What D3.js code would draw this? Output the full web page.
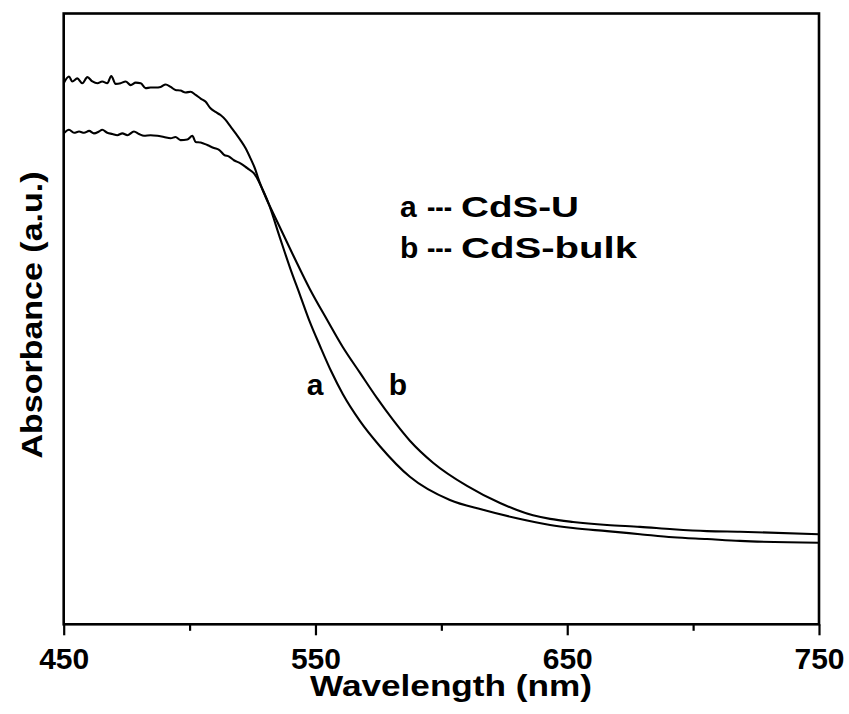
<!DOCTYPE html>
<html>
<head>
<meta charset="utf-8">
<script src="https://cdn.jsdelivr.net/npm/d3@7/dist/d3.min.js"></script>
<style>
  html, body { margin: 0; padding: 0; background: #fff; }
  svg { display: block; }
  text { font-family: "Liberation Sans", Arial, Helvetica, sans-serif; font-weight: bold; fill: #000; }
</style>
</head>
<body>
<svg id="chart" width="849" height="714"></svg>
<script>
// ---- Data ----
const wavelengthA = [450,452.1,453.4,455.4,457.4,459.4,461.4,463.4,465.3,467.3,468.9,470.6,472.6,474.6,476.6,478.6,480.6,482.5,484.5,486.5,488.5,490.5,492.5,494.4,496.4,498.4,500.4,502.4,504.4,506.3,508.3,510.3,512.3,514.3,516.3,518.3,520.2,522.2,524.2,526.2,527.3,531.5,535.9,539.9,543.9,547.8,551.8,556.2,560.9,567.7,575.6,587.5,603.4,616.5,630.0,643.2,652.3,665.8,678.9,692.0,705.5,718.6,750];
const absorbanceA = [0.885,0.896,0.888,0.893,0.885,0.895,0.888,0.885,0.888,0.885,0.897,0.884,0.885,0.888,0.882,0.886,0.885,0.877,0.878,0.878,0.879,0.883,0.879,0.874,0.873,0.870,0.871,0.866,0.860,0.855,0.844,0.838,0.833,0.825,0.814,0.803,0.792,0.779,0.762,0.743,0.729,0.687,0.632,0.583,0.538,0.494,0.455,0.414,0.376,0.332,0.291,0.241,0.203,0.187,0.173,0.162,0.157,0.152,0.147,0.142,0.139,0.136,0.133];

const wavelengthB = [450,452.1,454.1,456.1,458.1,460.1,462.0,464.0,465.3,467.3,469.3,471.3,473.3,475.3,477.9,479.9,481.9,484.5,487.2,489.8,492.5,494.4,496.4,499.1,501.1,502.4,504.4,507.0,509.7,511.7,513.7,515.7,517.6,520.2,522.9,525.5,531.5,541.1,547.8,554.6,560.9,567.7,574.4,580.8,587.5,596.7,610.2,623.3,636.4,643.2,652.3,665.8,678.9,692.0,705.5,718.6,750];
const absorbanceB = [0.803,0.809,0.804,0.806,0.804,0.807,0.803,0.806,0.809,0.804,0.802,0.800,0.803,0.800,0.806,0.802,0.799,0.800,0.799,0.797,0.795,0.797,0.792,0.793,0.799,0.789,0.788,0.784,0.779,0.776,0.768,0.765,0.759,0.754,0.746,0.738,0.687,0.604,0.548,0.498,0.453,0.411,0.370,0.334,0.300,0.264,0.226,0.198,0.178,0.172,0.167,0.162,0.159,0.155,0.152,0.151,0.147];

const majorTicks = [450, 550, 650, 750];
const minorTicks = [500, 600, 700];
const xTitle = "Wavelength (nm)";
const yTitle = "Absorbance (a.u.)";
const curveLabels = ["a", "b"];
const legendKeys = ["a", "b"];
const legendNames = ["CdS-U", "CdS-bulk"];

(function () {
// ---- Layout ----
const pLeft = 63.7, pRight = 819, pTop = 13.5, pBottom = 624.3;
const svg = d3.select("#chart");

const x = d3.scaleLinear().domain([450, 750]).range([pLeft, pRight]);
const y = d3.scaleLinear().domain([0, 1]).range([624, 13]);

// Curves
const line = d3.line().x(d => x(d[0])).y(d => y(d[1])).curve(d3.curveMonotoneX);
const seriesA = wavelengthA.map((w, i) => [w, absorbanceA[i]]);
const seriesB = wavelengthB.map((w, i) => [w, absorbanceB[i]]);

svg.append("clipPath").attr("id", "plotclip")
  .append("rect").attr("x", pLeft).attr("y", pTop).attr("width", pRight - pLeft).attr("height", pBottom - pTop);

const plot = svg.append("g").attr("clip-path", "url(#plotclip)");
[seriesA, seriesB].forEach(s => {
  plot.append("path").datum(s)
    .attr("d", line)
    .attr("fill", "none")
    .attr("stroke", "#000")
    .attr("stroke-width", 2.1)
    .attr("stroke-linejoin", "round");
});

// Frame
svg.append("rect")
  .attr("x", pLeft).attr("y", pTop)
  .attr("width", pRight - pLeft).attr("height", pBottom - pTop)
  .attr("fill", "none").attr("stroke", "#000").attr("stroke-width", 2.6);

// Major axis
const axMajor = svg.append("g").attr("transform", `translate(0,${pBottom})`)
  .call(d3.axisBottom(x).tickValues(majorTicks).tickSize(11).tickSizeOuter(0).tickPadding(12.5).tickFormat(d3.format("d")));
axMajor.select(".domain").remove();
axMajor.selectAll(".tick line").attr("stroke", "#000").attr("stroke-width", 2.2);
axMajor.selectAll(".tick text")
  .style("font-family", '"Liberation Sans", Arial, sans-serif')
  .style("font-weight", "bold").style("font-size", "30px").attr("fill", "#000");

// Minor axis
const axMinor = svg.append("g").attr("transform", `translate(0,${pBottom})`)
  .call(d3.axisBottom(x).tickValues(minorTicks).tickSize(6.5).tickSizeOuter(0).tickFormat(""));
axMinor.select(".domain").remove();
axMinor.selectAll(".tick line").attr("stroke", "#000").attr("stroke-width", 2.2);

// Axis titles
svg.append("text")
  .attr("x", 451).attr("y", 696)
  .attr("text-anchor", "middle")
  .attr("textLength", 282).attr("lengthAdjust", "spacingAndGlyphs")
  .style("font-size", "29px")
  .text(xTitle);

svg.append("text")
  .attr("transform", "translate(41.5,315) rotate(-90)")
  .attr("text-anchor", "middle")
  .attr("textLength", 287).attr("lengthAdjust", "spacingAndGlyphs")
  .style("font-size", "30px")
  .text(yTitle);

// Curve labels
svg.append("text").attr("x", 315).attr("y", 395).attr("text-anchor", "middle").style("font-size", "30px").text(curveLabels[0]);
svg.append("text").attr("x", 398).attr("y", 395).attr("text-anchor", "middle").style("font-size", "30px").text(curveLabels[1]);

// Legend text
const legendY = [216.7, 257.7];
const nameWidths = [118, 176];
legendKeys.forEach((k, i) => {
  svg.append("text").attr("x", 400).attr("y", legendY[i]).style("font-size", "30px").text(k);
  svg.append("text").attr("x", 427).attr("y", legendY[i])
    .attr("textLength", 25).attr("lengthAdjust", "spacingAndGlyphs")
    .style("font-size", "30px").text("---");
  svg.append("text").attr("x", 461).attr("y", legendY[i])
    .attr("textLength", nameWidths[i]).attr("lengthAdjust", "spacingAndGlyphs")
    .style("font-size", "30px").text(legendNames[i]);
});
})();
</script>
</body>
</html>
